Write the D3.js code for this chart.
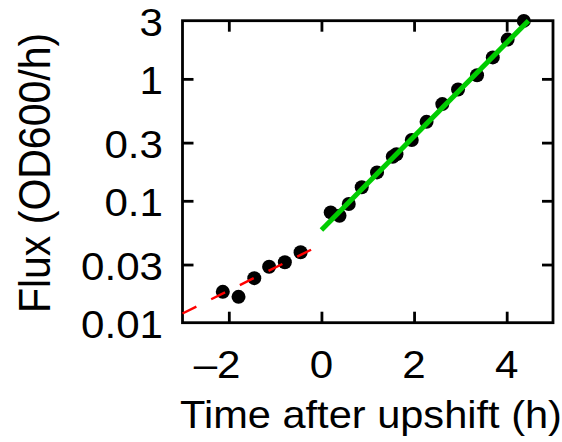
<!DOCTYPE html>
<html><head><meta charset="utf-8">
<script src="https://cdn.jsdelivr.net/npm/d3@7"></script>
<style>
html,body{margin:0;padding:0;background:#fff;}
text{font-family:"Liberation Sans",Arial,Helvetica,sans-serif;fill:#000;}
</style></head>
<body>
<svg id="chart" width="562" height="442"></svg>
<script>
// ---- data ----
const preTime  = [-2.13, -1.79, -1.45, -1.13, -0.79, -0.45];
const preFlux  = [0.0179, 0.0163, 0.0232, 0.0288, 0.0313, 0.0378];
const postTime = [0.20, 0.39, 0.59, 0.87, 1.20, 1.54, 1.62, 1.95, 2.27, 2.61, 2.95, 3.36, 3.70, 4.02, 4.37];
const postFlux = [0.0803, 0.0754, 0.094, 0.129, 0.171, 0.230, 0.241, 0.315, 0.444, 0.621, 0.819, 1.07, 1.50, 2.10, 2.99];
const preFitTime  = [-3, 0];
const preFitFlux  = [0.0119, 0.0437];
const postFitTime = [0, 4.47];
const postFitFlux = [0.0575, 3.0];
const xTickValues = [-2, 0, 2, 4];
const xTickLabels = ["\u20132", "0", "2", "4"];
const yTickValues = [0.01, 0.03, 0.1, 0.3, 1, 3];
const yTickLabels = ["0.01", "0.03", "0.1", "0.3", "1", "3"];
const xTitle = "Time after upshift (h)";
const yTitle = "Flux (OD600/h)";

// ---- layout ----
const L = 182.5, R = 553, T = 20.7, B = 322.7;
const sx = 1.08; // horizontal text stretch seen in reference
const fs = 39;

const svg = d3.select("#chart");
const x = d3.scaleLinear().domain([-3, 5]).range([L, R]);
const y = d3.scaleLog().domain([0.01, 3]).range([B, T]);

// frame
svg.append("rect").attr("x", L).attr("y", T).attr("width", R - L).attr("height", B - T)
  .attr("fill", "none").attr("stroke", "#000").attr("stroke-width", 2.8);

// ticks via axes (inward)
const tk = 11;
function styleAxis(g){ g.select(".domain").remove(); g.selectAll("text").remove();
  g.selectAll("line").attr("stroke", "#000").attr("stroke-width", 2.8); }
svg.append("g").attr("transform", `translate(0,${B})`)
  .call(d3.axisBottom(x).tickValues(xTickValues).tickSize(-tk)).call(styleAxis);
svg.append("g").attr("transform", `translate(0,${T})`)
  .call(d3.axisTop(x).tickValues(xTickValues).tickSize(-tk)).call(styleAxis);
const yInner = [0.03, 0.1, 0.3, 1];
svg.append("g").attr("transform", `translate(${L},0)`)
  .call(d3.axisLeft(y).tickValues(yInner).tickSize(-tk)).call(styleAxis);
svg.append("g").attr("transform", `translate(${R},0)`)
  .call(d3.axisRight(y).tickValues(yInner).tickSize(-tk)).call(styleAxis);

// tick labels
svg.append("g").selectAll("text").data(xTickValues).join("text")
  .attr("transform", d => `translate(${x(d)},377.5) scale(${sx},1)`)
  .attr("x", fs * 0.278).attr("text-anchor", "end").attr("font-size", fs)
  .text((d, i) => xTickLabels[i]);
svg.append("g").selectAll("text").data(yTickValues).join("text")
  .attr("transform", d => `translate(163,${y(d) + 15}) scale(${sx},1)`)
  .attr("text-anchor", "end").attr("font-size", fs)
  .text((d, i) => yTickLabels[i]);

// titles
svg.append("text").attr("transform", `translate(371,428) scale(${sx},1)`)
  .attr("text-anchor", "middle").attr("font-size", 38.5).text(xTitle);
svg.append("text").attr("transform", `translate(50,173) scale(${sx},1) rotate(-90)`)
  .attr("text-anchor", "middle").attr("font-size", 41).text(yTitle);

// points
const pts = preTime.map((t, i) => [t, preFlux[i]])
  .concat(postTime.map((t, i) => [t, postFlux[i]]));
svg.append("g").selectAll("circle").data(pts).join("circle")
  .attr("cx", d => x(d[0])).attr("cy", d => y(d[1])).attr("r", 7).attr("fill", "#000");

// fit lines
const line = d3.line().x(d => x(d[0])).y(d => y(d[1]));
svg.append("path").datum(preFitTime.map((t, i) => [t, preFitFlux[i]]))
  .attr("d", line).attr("fill", "none").attr("stroke", "#ff0000")
  .attr("stroke-width", 2.4).attr("stroke-dasharray", "15.5,16.5");
svg.append("path").datum(postFitTime.map((t, i) => [t, postFitFlux[i]]))
  .attr("d", line).attr("fill", "none").attr("stroke", "#00cc00")
  .attr("stroke-width", 5);
</script>
</body></html>
